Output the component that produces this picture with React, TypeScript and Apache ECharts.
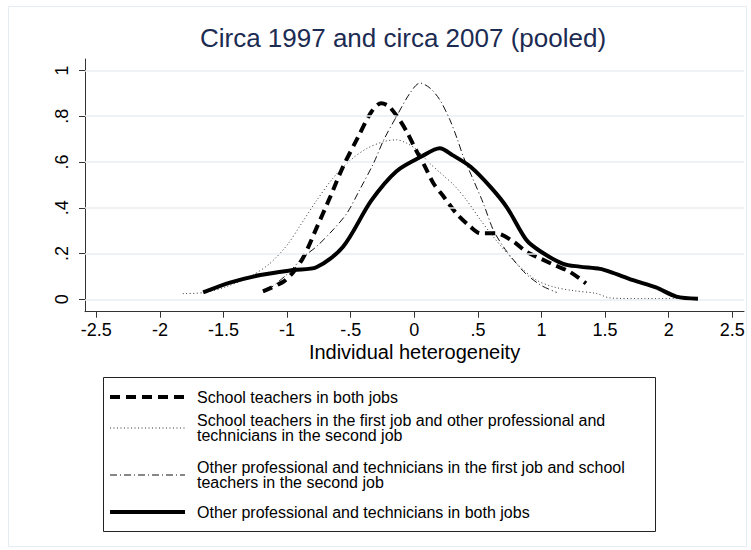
import { useEffect, useRef } from 'react';
import * as echarts from 'echarts';

const titleText = 'Circa 1997 and circa 2007 (pooled)';
const xAxisName = 'Individual heterogeneity';
const xTicks = [-2.5, -2, -1.5, -1, -0.5, 0, 0.5, 1, 1.5, 2, 2.5];
const yTicks = [0, 0.2, 0.4, 0.6, 0.8, 1];

const legendLabels = [
  'School teachers in both jobs',
  'School teachers in the first job and other professional and\ntechnicians in the second job',
  'Other professional and technicians in the first job and school\nteachers in the second job',
  'Other professional and technicians in both jobs',
];

// School teachers in both jobs
const teachersBoth = [
  [-1.19, 0.035], [-1.03, 0.077], [-0.95, 0.12], [-0.87, 0.186], [-0.77, 0.31], [-0.66, 0.449],
  [-0.56, 0.58], [-0.44, 0.711], [-0.335, 0.821], [-0.26, 0.857], [-0.2, 0.843], [-0.126, 0.792],
  [-0.06, 0.733], [0.006, 0.66], [0.084, 0.58], [0.15, 0.507], [0.23, 0.449], [0.33, 0.376],
  [0.44, 0.318], [0.52, 0.289], [0.64, 0.289], [0.78, 0.252], [0.88, 0.208], [0.99, 0.179],
  [1.1, 0.15], [1.22, 0.121], [1.35, 0.07],
];

// School teachers first job, other professional second job
const teacherThenOther = [
  [-1.82, 0.025], [-1.65, 0.03], [-1.48, 0.055], [-1.29, 0.1], [-1.135, 0.157], [-1.0, 0.237],
  [-0.9, 0.32], [-0.77, 0.43], [-0.64, 0.529], [-0.5, 0.609], [-0.37, 0.66], [-0.24, 0.689],
  [-0.14, 0.697], [-0.06, 0.682], [0.02, 0.653], [0.12, 0.595], [0.22, 0.545], [0.31, 0.5],
  [0.41, 0.434], [0.52, 0.347], [0.62, 0.274], [0.73, 0.201], [0.83, 0.143], [0.96, 0.084],
  [1.09, 0.055], [1.25, 0.038], [1.43, 0.026], [1.54, 0.006], [1.8, 0.003], [2.08, 0.003],
];

// Other professional first job, school teachers second job
const otherThenTeacher = [
  [-1.15, 0.04], [-1.0, 0.11], [-0.87, 0.186], [-0.77, 0.23], [-0.64, 0.303], [-0.53, 0.376],
  [-0.43, 0.478], [-0.32, 0.595], [-0.24, 0.697], [-0.14, 0.799], [-0.034, 0.901], [0.045, 0.945],
  [0.123, 0.923], [0.2, 0.872], [0.28, 0.784], [0.34, 0.697], [0.385, 0.624], [0.464, 0.522],
  [0.542, 0.42], [0.621, 0.303], [0.7, 0.23], [0.78, 0.172], [0.88, 0.11], [1.0, 0.06], [1.12, 0.03],
];

// Other professional and technicians in both jobs
const otherBoth = [
  [-1.66, 0.03], [-1.45, 0.073], [-1.21, 0.106], [-0.95, 0.128], [-0.77, 0.14], [-0.56, 0.23],
  [-0.34, 0.43], [-0.14, 0.56], [0.06, 0.625], [0.2, 0.66], [0.3, 0.63], [0.44, 0.58],
  [0.6, 0.49], [0.73, 0.4], [0.88, 0.26], [0.99, 0.21], [1.17, 0.155], [1.3, 0.143],
  [1.46, 0.133], [1.54, 0.12], [1.72, 0.084], [1.9, 0.052], [2.06, 0.012], [2.23, 0.003],
];

const seriesData = [teachersBoth, teacherThenOther, otherThenTeacher, otherBoth];
const lineStyles = [
  { width: 4, type: [10, 6] as number[], color: '#000' },
  { width: 1, type: [1, 2.5] as number[], color: '#333' },
  { width: 1, type: [7, 3, 1, 3] as number[], color: '#111' },
  { width: 4, type: 'solid' as any, color: '#000' },
];

const FONT = '"Liberation Sans", Arial, Helvetica, sans-serif';

const fmt = (v: number) => {
  const s = String(Math.round(v * 10) / 10);
  return s.replace(/^(-?)0\./, '$1.');
};

export default function App() {
  const ref = useRef<HTMLDivElement>(null);
  useEffect(() => {
    if (!ref.current) return;
    const chart = echarts.init(ref.current, undefined, { renderer: 'svg' });

    const symbolY = [397, 428, 475, 512];
    const legendGraphics: any[] = [
      {
        type: 'rect',
        shape: { x: 103.5, y: 377.5, width: 552, height: 154 },
        style: { fill: '#fff', stroke: '#222', lineWidth: 1 },
        z: 10,
      },
    ];
    lineStyles.forEach((ls, i) => {
      legendGraphics.push({
        type: 'line',
        shape: { x1: 110, y1: symbolY[i], x2: 185, y2: symbolY[i] },
        style: {
          stroke: ls.color,
          lineWidth: ls.width,
          lineDash: Array.isArray(ls.type) ? ls.type : null,
        },
        z: 11,
      });
      legendGraphics.push({
        type: 'text',
        x: 197,
        y: symbolY[i],
        style: {
          text: legendLabels[i],
          fill: '#000',
          font: `16px ${FONT}`,
          lineHeight: 15.5,
          textVerticalAlign: 'middle',
          textAlign: 'left',
        },
        z: 11,
      });
    });

    chart.setOption({
      animation: false,
      backgroundColor: '#fff',
      grid: { left: 85, top: 59, right: 7, bottom: 238.3 },
      xAxis: {
        type: 'value',
        min: -2.589,
        max: 2.592,
        name: xAxisName,
        nameLocation: 'middle',
        nameGap: 30,
        nameTextStyle: { fontFamily: FONT, fontSize: 20, color: '#000' },
        axisLine: { show: true, onZero: false, lineStyle: { color: '#333', width: 1 } },
        axisTick: { show: true, length: 6, customValues: xTicks, lineStyle: { color: '#333' } },
        axisLabel: {
          customValues: xTicks,
          formatter: (v: number) => fmt(v),
          fontFamily: FONT,
          fontSize: 18,
          color: '#000',
          margin: 9,
        },
        splitLine: { show: false },
      },
      yAxis: {
        type: 'value',
        min: -0.054,
        max: 1.05,
        axisLine: { show: true, onZero: false, lineStyle: { color: '#333', width: 1 } },
        axisTick: { show: true, length: 6, customValues: yTicks, lineStyle: { color: '#333' } },
        axisLabel: {
          customValues: yTicks,
          formatter: (v: number) => fmt(v),
          fontFamily: FONT,
          fontSize: 18,
          color: '#000',
          rotate: 90,
          margin: 14,
        },
        splitLine: { show: false },
      },
      graphic: [
        {
          type: 'rect',
          shape: { x: 8.5, y: 6.5, width: 738, height: 540 },
          style: { fill: 'none', stroke: '#e6edf1', lineWidth: 1 },
          z: -1,
        },
        {
          type: 'text',
          x: 403,
          y: 38,
          style: {
            text: titleText,
            fill: '#1c2b52',
            font: `26px ${FONT}`,
            textAlign: 'center',
            textVerticalAlign: 'middle',
          },
        },
        ...legendGraphics,
      ],
      series: [
        {
          type: 'line',
          data: [[0, 0]],
          symbol: 'none',
          lineStyle: { opacity: 0 },
          z: 1,
          silent: true,
          markLine: {
            silent: true,
            symbol: ['none', 'none'],
            label: { show: false },
            lineStyle: { type: 'solid', color: '#e8eef2', width: 1.5 },
            data: yTicks.map((v) => ({ yAxis: v })),
          },
        },
        ...seriesData.map((d, i) => ({
          type: 'line',
          data: d,
          symbol: 'none',
          smooth: 0.3,
          z: 3 + i,
          lineStyle: lineStyles[i],
        })),
      ],
    });
    return () => chart.dispose();
  }, []);
  return (
    <div
      ref={ref}
      style={{ position: 'fixed', left: 0, top: 0, width: 751, height: 550, background: '#fff' }}
    />
  );
}
